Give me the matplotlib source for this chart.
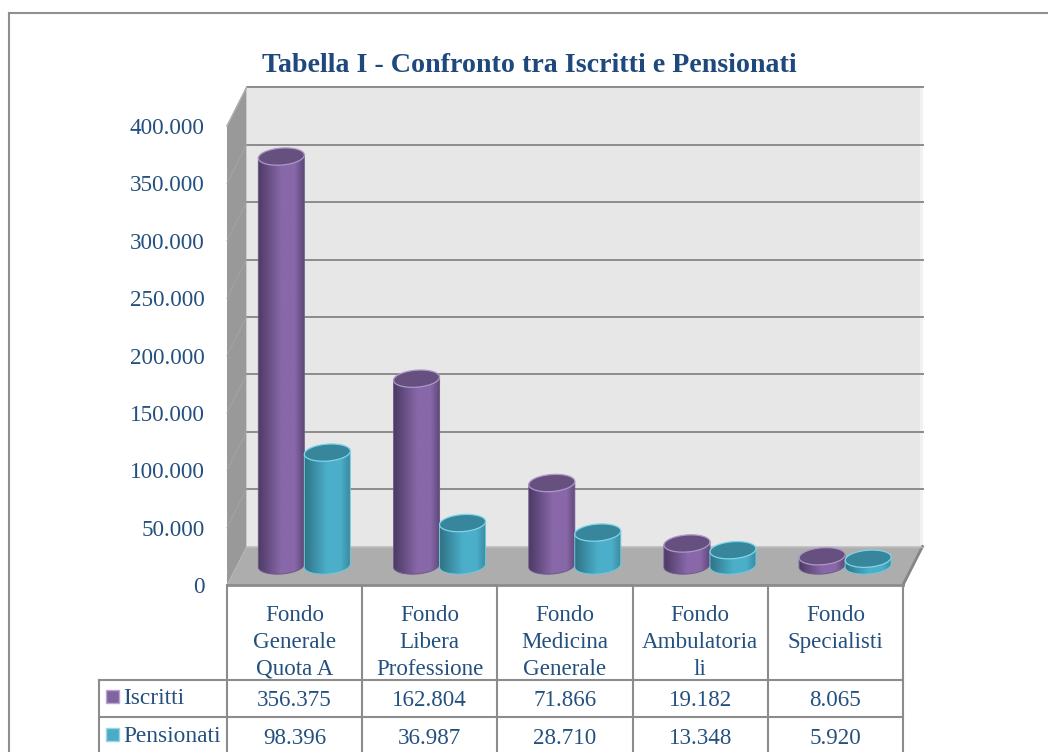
"""Tabella I - Iscritti vs Pensionati, 3D-look cylinders with data table below"""

import numpy as np
import matplotlib
matplotlib.use("Agg")
import matplotlib.pyplot as plt
from matplotlib.patches import Polygon, Rectangle
from matplotlib.lines import Line2D

plt.rcParams['font.family'] = ['Liberation Serif', 'DejaVu Serif']

categories = ["Fondo\nGenerale\nQuota A", "Fondo\nLibera\nProfessione", "Fondo\nMedicina\nGenerale",
              "Fondo\nAmbulatoria\nli", "Fondo\nSpecialisti"]
iscritti = [356375, 162804, 71866, 19182, 8065]
pensionati = [98396, 36987, 28710, 13348, 5920]
y_ticks = [0, 50000, 100000, 150000, 200000, 250000, 300000, 350000, 400000]
title = "Tabella I - Confronto tra Iscritti e Pensionati"

W, H = 1048, 752
TEXT = "#24507f"
LINE = "#8c8c8c"


def fmt(v):
    '''Italian style thousands separator'''
    return f"{v:,}".replace(",", ".")


def draw_cylinder(ax, cx, value, width, ell_h, tilt, base, colors):
    '''Cylinder with a horizontal gradient, clipped to its outline. tilt = rise over half the width'''
    left, mid, right, top, rim, side = colors
    half_w = width / 2
    t = np.linspace(np.pi, 2 * np.pi, 60)
    xs = cx + half_w * np.cos(t)
    low = base + ell_h / 2 * np.sin(t) + tilt * np.cos(t)
    outline = list(zip(xs, low)) + [(cx + half_w, base + value + tilt), (cx - half_w, base + value - tilt)]
    clip = Polygon(outline, closed=True, facecolor="none", edgecolor=side, linewidth=0.7, zorder=5)
    ax.add_patch(clip)

    cmap = matplotlib.colors.LinearSegmentedColormap.from_list(
        "cyl", [(0, left), (0.5, mid), (0.8, mid), (1, right)])
    grad = np.linspace(0, 1, 128).reshape(1, -1)
    im = ax.imshow(grad, cmap=cmap, aspect="auto", interpolation="bilinear", zorder=4,
                   extent=(cx - half_w, cx + half_w, base - ell_h - tilt, base + value + tilt))
    im.set_clip_path(clip)

    # top face
    t = np.linspace(0, 2 * np.pi, 90)
    top_x = cx + half_w * np.cos(t)
    top_y = base + value + ell_h / 2 * np.sin(t) + tilt * np.cos(t)
    ax.add_patch(Polygon(list(zip(top_x, top_y)), closed=True, facecolor=top, edgecolor=rim,
                         linewidth=0.9, zorder=6))


def main():
    fig = plt.figure(figsize=(W / 100, H / 100), dpi=100, facecolor="white")

    # outer frame, open at the bottom and running off to the right
    for xs, ys in [((9, 9), (752, 13)), ((9, 1048), (13, 13))]:
        fig.add_artist(Line2D([x / W for x in xs], [1 - y / H for y in ys], color="#8f8f8f", linewidth=1.5))

    fig.text(529 / W, 1 - 65.5 / H, title, ha="center", va="center", fontsize=20.2, fontweight="bold", color="#1f497d")

    # chart axes: front plane of the 3D box
    x0, x1, y0, y1 = 227, 903, 585, 126
    ax = fig.add_axes([x0 / W, 1 - y0 / H, (x1 - x0) / W, (y0 - y1) / H])
    ax.patch.set_visible(False)
    n = len(categories)
    y_max = y_ticks[-1]

    # depth of the box in data units
    px_x = (x1 - x0) / n
    px_y = (y0 - y1) / y_max
    dx = 19.5 / px_x
    dy = 38.5 / px_y

    ax.add_patch(Polygon([(dx, dy), (n + dx, dy), (n + dx, y_max + dy), (dx, y_max + dy)],
                         facecolor="#e7e7e7", edgecolor="none", zorder=1, clip_on=False))
    ax.add_patch(Rectangle((n + dx - 3 / px_x, dy), 3 / px_x, y_max, facecolor="#f1f1f1", edgecolor="none",
                           zorder=1, clip_on=False))
    ax.add_patch(Polygon([(0, 0), (dx, dy), (dx, y_max + dy), (0, y_max)],
                         facecolor="#999999", edgecolor="none", zorder=2, clip_on=False))
    ax.add_patch(Polygon([(0, 0), (n, 0), (n + dx, dy), (dx, dy)],
                         facecolor="#adadad", edgecolor="none", zorder=2, clip_on=False))
    ax.plot([n, n + dx], [0, dy], color="#858585", linewidth=2.0, zorder=3, clip_on=False)

    for v in y_ticks:
        if v > 0:
            ax.plot([dx, n + dx], [v + dy, v + dy], color=LINE, linewidth=1.4, zorder=3, clip_on=False)
            ax.plot([0, dx], [v, v + dy], color="#a4a4a4", linewidth=0.7, zorder=3, clip_on=False)
    ax.plot([0, dx], [y_max, y_max + dy], color="#b0b0b0", linewidth=1.0, zorder=3, clip_on=False)
    ax.plot([0, n], [0, 0], color=LINE, linewidth=2.0, zorder=3, clip_on=False)
    ax.plot([dx, n + dx], [dy, dy], color="#b8b8b8", linewidth=1.0, zorder=3, clip_on=False)

    purple = ("#4d3a65", "#8868a8", "#5e4879", "#65507f", "#ad98c6", "#6f5889")
    teal = ("#2f7386", "#4bafca", "#3a8ba1", "#37869b", "#80d5e8", "#6cc8e0")
    width = 46 / px_x
    ell_h = 17 / px_y
    tilt = 1.6 / px_y
    base = 19.5 / px_y

    for i in range(n):
        cx = i + 0.5 + dx / 2
        draw_cylinder(ax, cx - width / 2, iscritti[i], width, ell_h, tilt, base, purple)
        draw_cylinder(ax, cx + width / 2, pensionati[i], width, ell_h, tilt, base, teal)

    ax.set_xlim(0, n)
    ax.set_ylim(0, y_max)
    ax.set_xticks([])
    ax.set_yticks(y_ticks)
    ax.set_yticklabels([fmt(v) for v in y_ticks], fontsize=16.7, color=TEXT)
    ax.tick_params(axis="y", length=0, pad=16)
    for s in ax.spines.values():
        s.set_visible(False)

    # data table, y in pixels from the top of the picture
    tb = fig.add_axes([x0 / W, 0, (x1 - x0) / W, 1 - y0 / H])
    tb.set_xlim(0, n)
    tb.set_ylim(H, y0)
    tb.axis("off")
    head = -(x0 - 99) / px_x

    for i in range(n + 1):
        tb.plot([i, i], [y0, H], color=LINE, linewidth=1.5, clip_on=False)
    tb.plot([head, head], [680, H], color=LINE, linewidth=1.5, clip_on=False)
    for y in (680, 717):
        tb.plot([head, n], [y, y], color=LINE, linewidth=1.5, clip_on=False)

    for i, cat in enumerate(categories):
        for k, line in enumerate(cat.split("\n")):
            tb.text(i + 0.5, 615.5 + 27 * k, line, ha="center", va="center", fontsize=16.6, color=TEXT)
        tb.text(i + 0.5, 700.5, fmt(iscritti[i]), ha="center", va="center", fontsize=16.6, color=TEXT)
        tb.text(i + 0.5, 739, fmt(pensionati[i]), ha="center", va="center", fontsize=16.6, color=TEXT)

    for name, y, col, edge in [("Iscritti", 696.5, "#8064a2", "#b9a7cf"), ("Pensionati", 734.5, "#4bacc6", "#9bd6e6")]:
        tb.add_patch(Rectangle((head + 7 / px_x, y - 6.5), 13 / px_x, 13, facecolor=col, edgecolor=edge,
                               linewidth=1.0, clip_on=False))
        tb.text(head + 24 / px_x, y + 1.5, name, ha="left", va="center", fontsize=16.8, color=TEXT)

    fig.savefig("out.png", dpi=100)


if __name__ == "__main__":
    main()
